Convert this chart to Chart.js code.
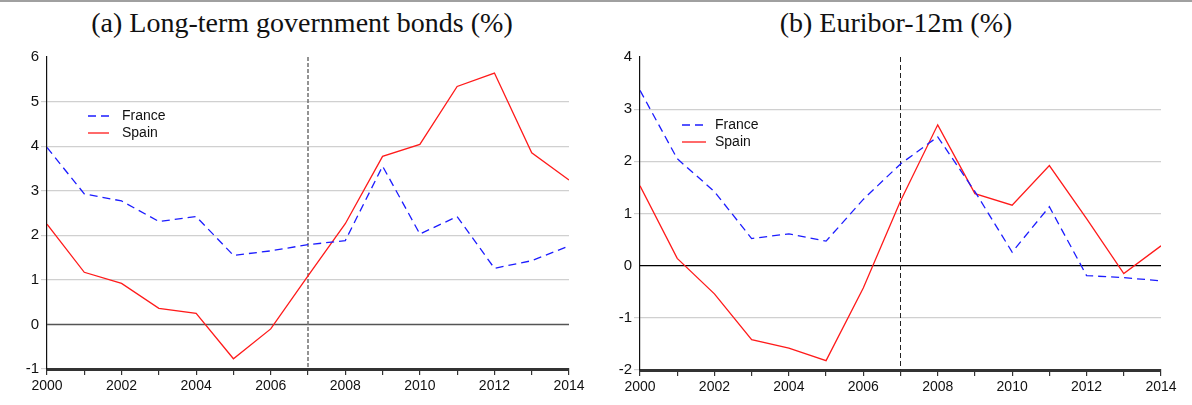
<!DOCTYPE html>
<html>
<head>
<meta charset="utf-8">
<script src="https://cdn.jsdelivr.net/npm/chart.js@4"></script>
<style>
  body { margin: 0; background: #fff; width: 1192px; height: 405px; position: relative; overflow: hidden; }
  .rule { position: absolute; left: 0; top: 0; width: 1192px; height: 2px; background: #a0a0a0; }
  .title { position: absolute; top: 7px; font-family: "Liberation Serif", "DejaVu Serif", serif; font-size: 28px; color: #111; white-space: nowrap; transform: translateX(-50%); }
  canvas { position: absolute; top: 45px; }
</style>
</head>
<body>
<div class="rule"></div>
<div class="title" id="title-a" style="left:302px">(a) Long-term government bonds (%)</div>
<div class="title" id="title-b" style="left:896px">(b) Euribor-12m (%)</div>
<canvas id="chart-a" width="592" height="360" style="left:0px"></canvas>
<canvas id="chart-b" width="598" height="360" style="left:596px"></canvas>
<script>
// --- DATA ---
const years = [2000, 2001, 2002, 2003, 2004, 2005, 2006, 2007, 2008, 2009, 2010, 2011, 2012, 2013, 2014];
const bondsFrance = [3.97, 2.93, 2.77, 2.31, 2.42, 1.55, 1.65, 1.79, 1.88, 3.55, 2.03, 2.42, 1.26, 1.43, 1.76];
const bondsSpain = [2.25, 1.17, 0.92, 0.36, 0.25, -0.77, -0.10, 1.09, 2.26, 3.77, 4.04, 5.34, 5.64, 3.85, 3.24];
const euriborFrance = [3.36, 2.05, 1.42, 0.52, 0.61, 0.47, 1.27, 1.95, 2.47, 1.42, 0.26, 1.13, -0.19, -0.23, -0.29];
const euriborSpain = [1.53, 0.14, -0.54, -1.42, -1.58, -1.82, -0.43, 1.24, 2.70, 1.38, 1.16, 1.92, 0.90, -0.15, 0.38];
const bondsTicks = [-1, 0, 1, 2, 3, 4, 5, 6];
const euriborTicks = [-2, -1, 0, 1, 2, 3, 4];
const seriesNames = ['France', 'Spain'];
const breakYear = 2007;

// --- PLUGINS ---
// vertical dashed line at the break year + zero line
const markerLines = {
  id: 'markerLines',
  beforeDatasetsDraw(chart, args, opts) {
    const { ctx, chartArea, scales } = chart;
    const x = scales.x.getPixelForValue(breakYear);
    const y0 = scales.y.getPixelForValue(0);
    ctx.save();
    ctx.strokeStyle = opts.zeroColor;
    ctx.lineWidth = opts.zeroWidth;
    ctx.beginPath();
    ctx.moveTo(chartArea.left, y0);
    ctx.lineTo(chartArea.right, y0);
    ctx.stroke();
    ctx.strokeStyle = opts.vColor;
    ctx.lineWidth = opts.vWidth;
    ctx.setLineDash(opts.vDash);
    ctx.beginPath();
    ctx.moveTo(x, chartArea.top);
    ctx.lineTo(x, chartArea.bottom);
    ctx.stroke();
    ctx.restore();
  }
};

// legend drawn inside the plot area
const innerLegend = {
  id: 'innerLegend',
  afterDatasetsDraw(chart, args, opts) {
    const { ctx } = chart;
    ctx.save();
    ctx.font = '14px "Liberation Sans", Arial, sans-serif';
    ctx.textBaseline = 'middle';
    chart.data.datasets.forEach((ds, i) => {
      const y = opts.y + i * 17;
      ctx.strokeStyle = ds.borderColor;
      ctx.lineWidth = 1.3;
      ctx.setLineDash(ds.borderDash || []);
      ctx.beginPath();
      ctx.moveTo(opts.x, y);
      ctx.lineTo(opts.x + opts.len, y);
      ctx.stroke();
      ctx.fillStyle = '#111';
      ctx.fillText(ds.label, opts.textX, y);
    });
    ctx.restore();
  }
};

function makeChart(id, france, spain, ticks, cfg) {
  const ctx = document.getElementById(id).getContext('2d');
  const yMin = ticks[0], yMax = ticks[ticks.length - 1];
  return new Chart(ctx, {
    type: 'line',
    data: {
      datasets: [
        { label: seriesNames[0], data: years.map((y, i) => ({ x: y, y: france[i] })),
          borderColor: '#1c1cff', borderWidth: 1.3, borderDash: [8, 5], pointRadius: 0, tension: 0 },
        { label: seriesNames[1], data: years.map((y, i) => ({ x: y, y: spain[i] })),
          borderColor: '#ff1a1a', borderWidth: 1.3, pointRadius: 0, tension: 0 }
      ]
    },
    options: {
      responsive: false,
      animation: false,
      layout: { padding: { top: 12, right: cfg.padRight, left: 0, bottom: 0 } },
      plugins: {
        legend: { display: false },
        tooltip: { enabled: false },
        markerLines: cfg.markers,
        innerLegend: cfg.legend
      },
      scales: {
        x: {
          type: 'linear', min: years[0], max: years[years.length - 1],
          afterBuildTicks: (s) => { s.ticks = years.map(v => ({ value: v })); },
          afterFit: (s) => { s.height = cfg.xHeight; },
          border: { display: true, color: '#333', width: 3 },
          grid: { drawOnChartArea: false, drawTicks: true, tickLength: 6, color: '#333', lineWidth: 1.2 },
          ticks: {
            autoSkip: false, maxRotation: 0, padding: 3, color: '#111',
            font: { family: '"Liberation Sans Narrow", "Liberation Sans", Arial, sans-serif', size: 14 },
            callback: (v) => (v % 2 === 0 ? String(v) : '')
          }
        },
        y: {
          min: yMin, max: yMax,
          afterBuildTicks: (s) => { s.ticks = ticks.map(v => ({ value: v })); },
          afterFit: (s) => { s.width = cfg.yWidth; },
          border: { display: true, color: '#111', width: 1.2 },
          grid: {
            drawTicks: true, tickLength: 6,
            color: (c) => (c.tick && (c.tick.value === yMax || c.tick.value === 0) ? 'rgba(0,0,0,0)' : '#d0d0d0'),
            lineWidth: 1.2
          },
          ticks: {
            padding: 2, color: '#111',
            font: { family: '"Liberation Sans", Arial, sans-serif', size: 15 }
          }
        }
      }
    },
    plugins: [markerLines, innerLegend]
  });
}

makeChart('chart-a', bondsFrance, bondsSpain, bondsTicks, {
  padRight: 23, yWidth: 47, xHeight: 36,
  markers: { zeroColor: '#555', zeroWidth: 1.6, vColor: '#707070', vWidth: 1.5, vDash: [4, 2] },
  legend: { x: 88, len: 21, textX: 122, y: 71 }
});

makeChart('chart-b', euriborFrance, euriborSpain, euriborTicks, {
  padRight: 33, yWidth: 44, xHeight: 35,
  markers: { zeroColor: '#000', zeroWidth: 1.2, vColor: '#222', vWidth: 1, vDash: [5, 3] },
  legend: { x: 86, len: 24, textX: 119, y: 80 }
});
</script>
</body>
</html>
